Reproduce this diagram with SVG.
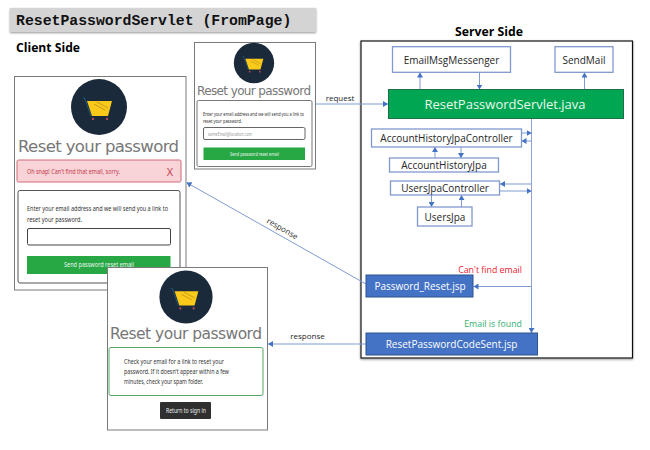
<svg xmlns="http://www.w3.org/2000/svg" width="650" height="450" viewBox="0 0 650 450">
<style>
text{font-family:"Open Sans","Liberation Sans",sans-serif}
.card{fill:#fff;stroke:#7a7a7a;stroke-width:1}
.head{fill:#777;font-family:"DejaVu Sans",sans-serif;text-anchor:middle}
.sm{fill:#333;font-family:"Noto Sans",sans-serif}
.wb{fill:#fff;stroke:#8199cf;stroke-width:1.300}
.wt{fill:#262626;font-size:10px;text-anchor:middle;font-family:"Open Sans",sans-serif}
.bb{fill:#4472c4;stroke:#2f528f;stroke-width:1}
.bt{fill:#fff;font-size:10px;text-anchor:middle}
.lbl{fill:#262626;font-size:8px;text-anchor:middle}
.con{fill:none;stroke:#7f9bd1;stroke-width:1;marker-end:url(#arr)}
.ln{fill:none;stroke:#8ea4d2;stroke-width:1}
</style>
<defs>
<marker id="arr" markerUnits="userSpaceOnUse" markerWidth="6" markerHeight="6" refX="5" refY="3" orient="auto"><path d="M0 0L5 3L0 6Z" fill="#4472c4"/></marker>
<filter id="sh" x="-5%" y="-20%" width="110%" height="150%"><feDropShadow dx="0" dy="1" stdDeviation="0.8" flood-color="#666" flood-opacity="0.7"/></filter>
<g id="cart"><circle r="28" fill="#1b2a3b"/><path d="M-16-9H-14.5L-8 9" fill="none" stroke="#1f5a78" stroke-width="1"/><path d="M-12-6H13L9 9H-7Z" fill="#fbc91a"/><path d="M-5-3L6 3M-2-5L9 1" stroke="#a88a20" stroke-width="0.7"/><circle cx="-6" cy="12" r="1.2" fill="#b04a5a"/><circle cx="8" cy="12" r="1.2" fill="#b04a5a"/></g>
</defs>

<g id="title"><rect x="10" y="8" width="306" height="24" fill="#d4d4d4" filter="url(#sh)"/><text x="16" y="25" style="font-family:'Liberation Mono',monospace;font-weight:bold;font-size:14.8px" fill="#111">ResetPasswordServlet (FromPage)</text></g>
<text x="16" y="52" style="font-weight:bold;font-size:13px;font-family:'Open Sans',sans-serif" fill="#000" textLength="64" lengthAdjust="spacingAndGlyphs">Client Side</text>

<g id="card-error">
<rect class="card" x="14.500" y="76.500" width="171.500" height="213.500"/>
<use href="#cart" x="99" y="107"/>
<text class="head" x="98.500" y="152" font-size="16.500" textLength="161">Reset your password</text>
<rect x="17" y="160" width="164" height="22" rx="1.500" fill="#f8d3d8" stroke="#d06a76" stroke-width="1"/>
<text x="27" y="174" font-size="7.500" fill="#c23a4a" style="font-family:'Noto Sans',sans-serif" textLength="93" lengthAdjust="spacingAndGlyphs">Oh snap! Can't find that email, sorry.</text>
<text x="170" y="176" font-size="11" fill="#c23a4a" text-anchor="middle">X</text>
<rect x="18" y="190.500" width="162" height="92.500" rx="2" fill="#fff" stroke="#555" stroke-width="1"/>
<text class="sm" x="27" y="211" font-size="7.300" textLength="141" lengthAdjust="spacingAndGlyphs">Enter your email address and we will send you a link to</text>
<text class="sm" x="27" y="222" font-size="7.300" textLength="55" lengthAdjust="spacingAndGlyphs">reset your password.</text>
<rect x="27.500" y="228.500" width="143" height="16.500" rx="1.500" fill="#fff" stroke="#444" stroke-width="1"/>
<rect x="27" y="256" width="143.500" height="18" fill="#28a745"/>
<text x="64" y="267" font-size="7.300" fill="#e8f6ec" style="font-family:'Noto Sans',sans-serif" textLength="70" lengthAdjust="spacingAndGlyphs">Send password reset email</text>
</g>

<g id="card-request">
<rect class="card" x="194.500" y="42.500" width="121" height="126.500"/>
<use href="#cart" transform="translate(254 63) scale(0.72)"/>
<text class="head" x="254" y="95" font-size="12" textLength="114">Reset your password</text>
<rect x="197" y="100.500" width="115" height="66" rx="1.500" fill="#fff" stroke="#777" stroke-width="1"/>
<text class="sm" x="203" y="115.500" font-size="4.900" textLength="101" lengthAdjust="spacingAndGlyphs">Enter your email address and we will send you a link to</text>
<text class="sm" x="203" y="123" font-size="4.900" textLength="39" lengthAdjust="spacingAndGlyphs">reset your password.</text>
<rect x="203.500" y="127.500" width="101.500" height="12" rx="1.500" fill="#fff" stroke="#666" stroke-width="1"/>
<text x="208" y="135.500" font-size="4.900" fill="#999" style="font-family:'Noto Sans',sans-serif" textLength="44" lengthAdjust="spacingAndGlyphs">someEmail@location.com</text>
<rect x="203.500" y="147.500" width="101.500" height="12.500" fill="#28a745"/>
<text x="230" y="155.500" font-size="4.900" fill="#e8f6ec" style="font-family:'Noto Sans',sans-serif" textLength="49" lengthAdjust="spacingAndGlyphs">Send password reset email</text>
</g>

<g id="card-sent">
<rect class="card" x="107.500" y="267.500" width="160" height="162.500"/>
<use href="#cart" transform="translate(186 297) scale(0.95)"/>
<text class="head" x="186" y="339" font-size="15.500" textLength="152">Reset your password</text>
<rect x="109" y="347.500" width="154" height="48" rx="2" fill="#fff" stroke="#57a866" stroke-width="1"/>
<text class="sm" x="124" y="364" font-size="6.800" textLength="100" lengthAdjust="spacingAndGlyphs">Check your email for a link to reset your</text>
<text class="sm" x="124" y="374" font-size="6.800" textLength="105" lengthAdjust="spacingAndGlyphs">password. If it doesn't appear within a few</text>
<text class="sm" x="124" y="384" font-size="6.800" textLength="79" lengthAdjust="spacingAndGlyphs">minutes, check your spam folder.</text>
<rect x="160" y="402" width="51" height="17" rx="1" fill="#2f2f2f"/>
<text x="166" y="413" font-size="6.300" fill="#eee" style="font-family:'Noto Sans',sans-serif" textLength="40" lengthAdjust="spacingAndGlyphs">Return to sign in</text>
</g>

<text x="489" y="36" style="font-weight:bold;font-size:13px;font-family:'Open Sans',sans-serif" fill="#000" text-anchor="middle" textLength="68" lengthAdjust="spacingAndGlyphs">Server Side</text>
<rect id="server-frame" x="361" y="41" width="271.500" height="317" fill="#fff" stroke="#111" stroke-width="1.200" filter="url(#sh)"/>

<g id="connectors">
<path class="con" d="M315.500 104H388"/>
<path class="con" d="M420 89.500V72.500"/>
<path class="con" d="M479.500 72.500V89.500"/>
<path class="con" d="M584.500 89.500V72.500"/>
<path class="ln" d="M531.500 118.500V288"/>
<path class="con" d="M531.500 288V333"/>
<path class="con" d="M521.500 133H531.500"/>
<path class="con" d="M531.500 141H521.500"/>
<path class="con" d="M435 158V147"/>
<path class="con" d="M461 147V158"/>
<path class="con" d="M531.500 184H500"/>
<path class="con" d="M500 191H531.500"/>
<path class="con" d="M431.500 195V207"/>
<path class="con" d="M461.500 207V195"/>
<path class="con" d="M531.500 286.500H473.500"/>
<path class="con" d="M366 284L186.500 182.500"/>
<path class="con" d="M366 344H268"/>
</g>
<text class="lbl" x="340" y="101">request</text>
<text class="lbl" transform="translate(281 231) rotate(30)">response</text>
<text class="lbl" x="307.500" y="339">response</text>

<g id="EmailMsgMessenger"><rect class="wb" x="392.500" y="46.700" width="118" height="25.600"/><text class="wt" x="451.500" y="63.500">EmailMsgMessenger</text></g>
<g id="SendMail"><rect class="wb" x="555" y="46.700" width="58" height="25.600"/><text class="wt" x="584" y="63.500">SendMail</text></g>
<g id="ResetPasswordServlet"><rect x="388.500" y="89.500" width="235" height="29" fill="#00a651" stroke="#1f6f4a" stroke-width="1"/><text x="505" y="109" fill="#e8f8ef" font-size="13" text-anchor="middle">ResetPasswordServlet.java</text></g>
<g id="AccountHistoryJpaController"><rect class="wb" x="371.500" y="129" width="150" height="18"/><text class="wt" x="446.500" y="142">AccountHistoryJpaController</text></g>
<g id="AccountHistoryJpa"><rect class="wb" x="389.500" y="158" width="109" height="14"/><text class="wt" x="444" y="169">AccountHistoryJpa</text></g>
<g id="UsersJpaController"><rect class="wb" x="390.500" y="181" width="109" height="14"/><text class="wt" x="445" y="192">UsersJpaController</text></g>
<g id="UsersJpa"><rect class="wb" x="417.500" y="207" width="54.500" height="19"/><text class="wt" x="445" y="220.500">UsersJpa</text></g>
<g id="Password_Reset"><rect class="bb" x="366" y="275" width="107" height="22"/><text class="bt" x="420" y="290">Password_Reset.jsp</text></g>
<g id="ResetPasswordCodeSent"><rect class="bb" x="366" y="333" width="171.500" height="22"/><text class="bt" x="451.500" y="348">ResetPasswordCodeSent.jsp</text></g>
<text x="522" y="273" font-size="8.800" fill="#f02030" text-anchor="end">Can't find email</text>
<text x="522" y="327" font-size="8.800" fill="#33b070" text-anchor="end">Email is found</text>
</svg>
